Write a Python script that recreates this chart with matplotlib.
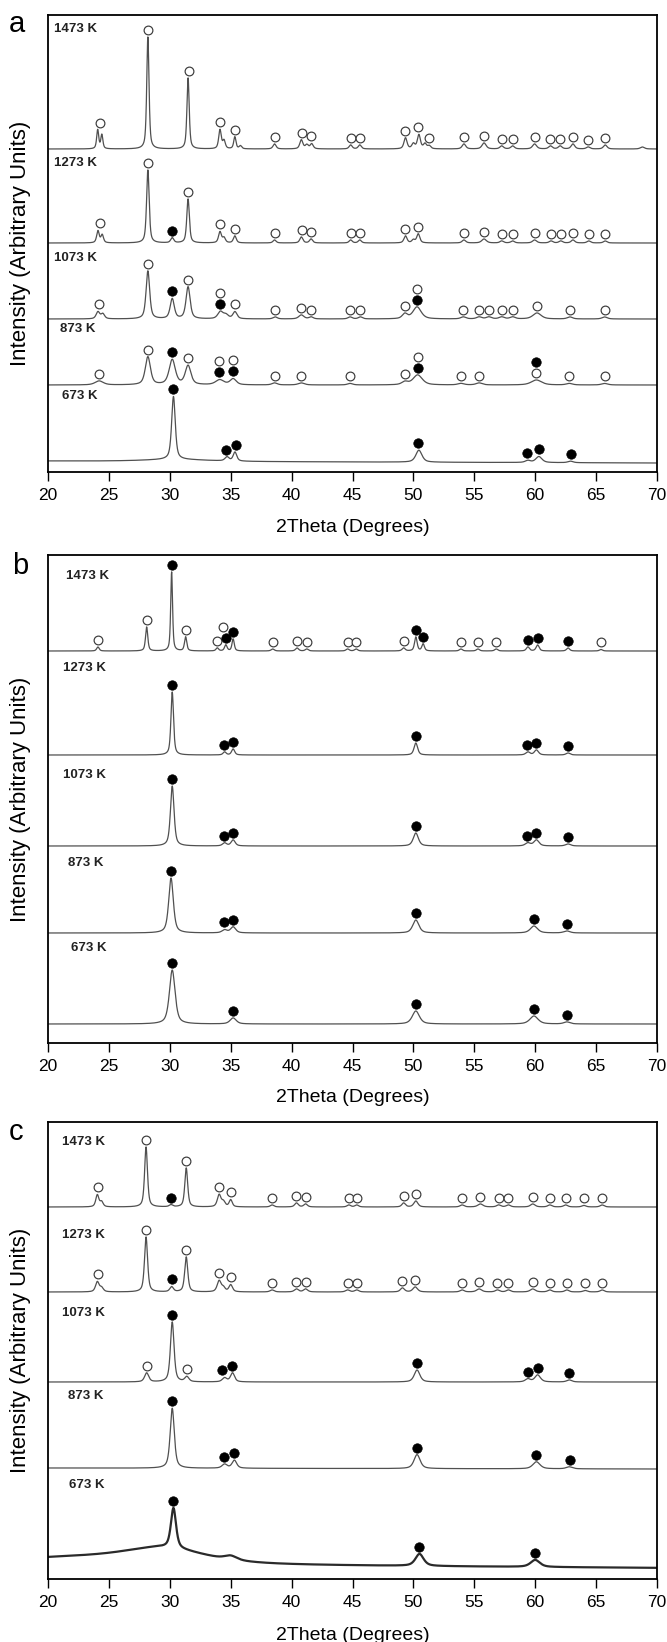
import numpy as np
import matplotlib
matplotlib.use("Agg")
import matplotlib.pyplot as plt

plt.rcParams['font.family'] = ['Liberation Sans', 'DejaVu Sans']

TEMPS = ["1473 K", "1273 K", "1073 K", "873 K", "673 K"]
X_TICKS = [20, 25, 30, 35, 40, 45, 50, 55, 60, 65, 70]

# ---- panel a : peaks (2theta, height, fwhm) and phase marks (2theta, 'o' open / 'f' filled)
A_1473_PEAKS = [(24.08, 19, 0.2), (24.42, 14, 0.2), (28.20, 112, 0.22), (31.50, 71, 0.22),
                (34.12, 19, 0.25), (34.45, 8, 0.25), (35.34, 12, 0.22), (35.80, 3, 0.25),
                (38.60, 5, 0.3), (40.80, 9, 0.3), (41.25, 4, 0.3), (41.65, 5, 0.3),
                (44.85, 4, 0.3), (45.60, 4, 0.3), (49.35, 11, 0.3), (50.00, 5, 0.3),
                (50.45, 14, 0.3), (50.95, 5, 0.3), (51.30, 3, 0.3), (54.15, 5, 0.35),
                (55.80, 6, 0.4), (57.25, 3, 0.35), (58.15, 3, 0.35), (59.95, 5, 0.4),
                (61.25, 3, 0.35), (62.05, 3, 0.35), (63.10, 5, 0.35), (64.35, 2, 0.35),
                (65.75, 4, 0.35), (68.80, 2, 0.4)]
A_1473_MARKS = [(24.3, 'o'), (28.2, 'o'), (31.55, 'o'), (34.15, 'o'), (35.35, 'o'), (38.6, 'o'),
                (40.85, 'o'), (41.6, 'o'), (44.85, 'o'), (45.6, 'o'), (49.35, 'o'), (50.4, 'o'),
                (51.3, 'o'), (54.15, 'o'), (55.8, 'o'), (57.25, 'o'), (58.15, 'o'), (59.95, 'o'),
                (61.25, 'o'), (62.05, 'o'), (63.1, 'o'), (64.35, 'o'), (65.75, 'o')]

A_1273_PEAKS = [(24.1, 12, 0.25), (24.45, 8, 0.25), (28.2, 73, 0.25), (30.2, 5, 0.3),
                (31.5, 44, 0.25), (34.12, 11, 0.28), (34.45, 5, 0.28), (35.34, 7, 0.28),
                (38.6, 3, 0.3), (40.8, 6, 0.3), (41.6, 4, 0.3), (44.85, 3, 0.3), (45.6, 3, 0.3),
                (49.35, 7, 0.3), (50.0, 3, 0.3), (50.4, 9, 0.3), (54.15, 3, 0.35),
                (55.8, 4, 0.45), (57.25, 2, 0.35), (58.15, 2, 0.35), (59.95, 3, 0.4),
                (61.3, 2, 0.35), (62.1, 2, 0.35), (63.1, 3, 0.35), (64.4, 2, 0.35), (65.75, 2, 0.35)]
A_1273_MARKS = [(24.3, 'o'), (28.2, 'o'), (30.2, 'f'), (31.5, 'o'), (34.15, 'o'), (35.35, 'o'),
                (38.6, 'o'), (40.85, 'o'), (41.6, 'o'), (44.85, 'o'), (45.6, 'o'), (49.35, 'o'),
                (50.4, 'o'), (54.15, 'o'), (55.8, 'o'), (57.25, 'o'), (58.15, 'o'), (59.95, 'o'),
                (61.3, 'o'), (62.1, 'o'), (63.1, 'o'), (64.4, 'o'), (65.75, 'o')]

A_1073_PEAKS = [(24.1, 7, 0.35), (24.5, 5, 0.35), (28.2, 48, 0.35), (30.2, 20, 0.4),
                (31.5, 32, 0.4), (34.15, 7, 0.5), (34.6, 4, 0.5), (35.35, 7, 0.4),
                (38.65, 2, 0.4), (40.8, 4, 0.5), (41.6, 2, 0.4), (44.8, 2, 0.4), (45.65, 2, 0.4),
                (49.3, 5, 0.5), (50.3, 12, 0.8), (54.1, 2, 0.5), (55.4, 2, 0.5), (56.2, 2, 0.5),
                (57.25, 2, 0.5), (58.15, 2, 0.5), (60.15, 6, 0.8), (62.85, 2, 0.5), (65.7, 2, 0.5)]
A_1073_MARKS = [(24.2, 'o'), (28.2, 'o'), (30.2, 'f'), (31.5, 'o'), (34.15, 'f'), (34.15, 'o'),
                (35.35, 'o'), (38.65, 'o'), (40.8, 'o'), (41.6, 'o'), (44.8, 'o'), (45.65, 'o'),
                (49.3, 'o'), (50.3, 'f'), (50.3, 'o'), (54.1, 'o'), (55.4, 'o'), (56.2, 'o'),
                (57.25, 'o'), (58.15, 'o'), (60.15, 'o'), (62.85, 'o'), (65.7, 'o')]

A_873_PEAKS = [(24.2, 4, 0.8), (28.2, 28, 0.5), (30.2, 25, 0.6), (31.5, 19, 0.55),
               (34.1, 5, 0.8), (35.2, 6, 0.6), (38.6, 2, 0.5), (40.8, 2, 0.6), (44.8, 1.5, 0.5),
               (49.3, 3, 0.6), (50.35, 10, 0.9), (53.9, 1.5, 0.6), (55.4, 2, 0.6),
               (60.1, 5, 1.0), (62.8, 1.5, 0.6), (65.7, 1.5, 0.6)]
A_873_MARKS = [(24.2, 'o'), (28.2, 'o'), (30.2, 'f'), (31.5, 'o'), (34.05, 'f'), (34.05, 'o'),
               (35.2, 'f'), (35.2, 'o'), (38.6, 'o'), (40.8, 'o'), (44.8, 'o'), (49.3, 'o'),
               (50.35, 'f'), (50.35, 'o'), (53.9, 'o'), (55.4, 'o'), (60.1, 'o'), (60.1, 'f'),
               (62.8, 'o'), (65.7, 'o')]

A_673_PEAKS = [(30.5, 2, 6.0), (30.3, 63, 0.35), (34.7, 4, 0.4), (35.35, 9, 0.35),
               (50.45, 12, 0.6), (59.4, 2, 0.5), (60.3, 6, 0.6), (62.9, 1.5, 0.5)]
A_673_MARKS = [(30.3, 'f'), (34.65, 'f'), (35.4, 'f'), (50.4, 'f'), (59.35, 'f'), (60.3, 'f'),
               (62.95, 'f')]

# ---- panel b
B_1473_PEAKS = [(24.1, 4, 0.25), (28.1, 24, 0.22), (30.15, 79, 0.18), (31.3, 14, 0.22),
                (33.9, 3, 0.25), (34.6, 6, 0.25), (35.2, 12, 0.22), (38.45, 2, 0.3),
                (40.45, 3, 0.3), (41.25, 2, 0.3), (44.6, 2, 0.3), (45.3, 2, 0.3),
                (49.2, 3, 0.3), (50.2, 14, 0.25), (50.8, 7, 0.25), (53.9, 2, 0.3),
                (55.3, 2, 0.3), (56.8, 2, 0.3), (59.4, 4, 0.3), (60.2, 6, 0.3),
                (62.7, 3, 0.3), (65.4, 1.5, 0.3)]
B_1473_MARKS = [(24.1, 'o'), (28.1, 'o'), (30.15, 'f'), (31.3, 'o'), (33.85, 'o'), (34.6, 'f'),
                (34.35, 'o'), (35.2, 'f'), (38.45, 'o'), (40.45, 'o'), (41.25, 'o'), (44.6, 'o'),
                (45.3, 'o'), (49.2, 'o'), (50.2, 'f'), (50.8, 'f'), (53.9, 'o'), (55.3, 'o'),
                (56.8, 'o'), (59.4, 'f'), (60.2, 'f'), (62.7, 'f'), (65.4, 'o')]

B_1273_PEAKS = [(30.2, 63, 0.25), (34.5, 3, 0.3), (35.2, 6, 0.3), (50.2, 12, 0.35),
                (59.4, 3, 0.4), (60.1, 5, 0.4), (62.7, 2, 0.4)]
B_1273_MARKS = [(30.2, 'f'), (34.45, 'f'), (35.2, 'f'), (50.2, 'f'), (59.35, 'f'), (60.1, 'f'),
                (62.7, 'f')]

B_1073_PEAKS = [(30.2, 60, 0.35), (34.5, 3, 0.4), (35.2, 6, 0.4), (50.2, 13, 0.5),
                (59.4, 3, 0.5), (60.1, 6, 0.5), (62.7, 2, 0.5)]
B_1073_MARKS = [(30.2, 'f'), (34.45, 'f'), (35.2, 'f'), (50.2, 'f'), (59.35, 'f'), (60.1, 'f'),
                (62.7, 'f')]

B_873_PEAKS = [(30.1, 55, 0.45), (34.5, 3, 0.5), (35.2, 6, 0.5), (50.2, 13, 0.6),
               (59.9, 7, 0.7), (62.6, 2, 0.6)]
B_873_MARKS = [(30.1, 'f'), (34.45, 'f'), (35.15, 'f'), (50.2, 'f'), (59.9, 'f'), (62.6, 'f')]

B_673_PEAKS = [(30.2, 54, 0.55), (35.2, 6, 0.6), (50.2, 13, 0.7), (59.9, 8, 0.8), (62.6, 2, 0.6)]
B_673_MARKS = [(30.2, 'f'), (35.2, 'f'), (50.2, 'f'), (59.9, 'f'), (62.6, 'f')]

# ---- panel c
C_1473_PEAKS = [(24.05, 12, 0.3), (24.4, 5, 0.3), (28.05, 60, 0.28), (30.1, 2, 0.35),
                (31.35, 39, 0.28), (34.05, 12, 0.35), (34.4, 5, 0.35), (35.0, 7, 0.3),
                (38.4, 2, 0.35), (40.4, 4, 0.35), (41.15, 3, 0.35), (44.7, 2, 0.35),
                (45.35, 2, 0.35), (49.2, 4, 0.35), (50.2, 6, 0.4), (54.0, 2, 0.4),
                (55.5, 3, 0.5), (57.0, 2, 0.4), (57.8, 2, 0.4), (59.8, 3, 0.45),
                (61.2, 2, 0.4), (62.5, 2, 0.4), (64.0, 1.5, 0.4), (65.5, 2, 0.4)]
C_1473_MARKS = [(24.1, 'o'), (28.05, 'o'), (30.1, 'f'), (31.35, 'o'), (34.05, 'o'), (35.0, 'o'),
                (38.4, 'o'), (40.4, 'o'), (41.15, 'o'), (44.7, 'o'), (45.35, 'o'), (49.2, 'o'),
                (50.2, 'o'), (54.0, 'o'), (55.5, 'o'), (57.0, 'o'), (57.8, 'o'), (59.8, 'o'),
                (61.2, 'o'), (62.5, 'o'), (64.0, 'o'), (65.5, 'o')]

C_1273_PEAKS = [(24.05, 10, 0.35), (24.4, 4, 0.35), (28.05, 55, 0.3), (30.15, 5, 0.35),
                (31.35, 35, 0.3), (34.05, 11, 0.38), (34.4, 4, 0.35), (35.0, 7, 0.35),
                (38.4, 2, 0.4), (40.4, 3, 0.4), (41.15, 3, 0.4), (44.6, 2, 0.4),
                (45.35, 2, 0.4), (49.1, 4, 0.4), (50.15, 5, 0.45), (54.0, 2, 0.4),
                (55.4, 3, 0.5), (56.9, 2, 0.4), (57.8, 2, 0.4), (59.8, 3, 0.5),
                (61.2, 2, 0.4), (62.6, 2, 0.4), (64.1, 1.5, 0.4), (65.5, 2, 0.4)]
C_1273_MARKS = [(24.1, 'o'), (28.05, 'o'), (30.15, 'f'), (31.35, 'o'), (34.05, 'o'), (35.0, 'o'),
                (38.4, 'o'), (40.4, 'o'), (41.15, 'o'), (44.6, 'o'), (45.35, 'o'), (49.1, 'o'),
                (50.15, 'o'), (54.0, 'o'), (55.4, 'o'), (56.9, 'o'), (57.8, 'o'), (59.8, 'o'),
                (61.2, 'o'), (62.6, 'o'), (64.1, 'o'), (65.5, 'o')]

C_1073_PEAKS = [(28.1, 9, 0.4), (30.2, 60, 0.35), (31.4, 5, 0.4), (34.5, 4, 0.45),
                (35.15, 9, 0.4), (50.3, 12, 0.55), (59.4, 3, 0.5), (60.2, 7, 0.55), (62.8, 2, 0.5)]
C_1073_MARKS = [(28.1, 'o'), (30.2, 'f'), (31.4, 'o'), (34.3, 'f'), (35.1, 'f'), (50.3, 'f'),
                (59.4, 'f'), (60.2, 'f'), (62.8, 'f')]

C_873_PEAKS = [(30.2, 60, 0.4), (34.5, 4, 0.5), (35.3, 8, 0.45), (50.3, 14, 0.6),
               (60.1, 7, 0.7), (62.8, 2, 0.6)]
C_873_MARKS = [(30.2, 'f'), (34.45, 'f'), (35.3, 'f'), (50.3, 'f'), (60.1, 'f'), (62.85, 'f')]

C_673_PEAKS = [(29.5, 15, 8.0), (22.0, 6, 14.0), (30.3, 40, 0.5), (35.0, 4, 1.2),
               (50.5, 12, 0.8), (60.0, 7, 0.9)]
C_673_MARKS = [(30.25, 'f'), (50.5, 'f'), (60.0, 'f')]

# vertical offsets of each pattern (1473 K ... 673 K) and background tilt
A_OFFSETS = [323, 229, 153, 87, 9]
B_OFFSETS = [392, 288, 197, 110, 19]
C_OFFSETS = [372, 287, 197, 110, 11]
A_TILT = [0, 0, 0, 0, 2]
B_TILT = [0, 0, 0, 0, 0]
C_TILT = [0, 0, 0, 1, 4]

two_theta = np.linspace(20, 70, 6001)


def profile(x, peaks, eta=0.6):
    y = np.zeros_like(x)
    for c, h, w in peaks:
        d = (x - c) / w
        y += h * (eta / (1 + 4 * d * d) + (1 - eta) * np.exp(-4 * np.log(2) * d * d))
    return y


W, H = 667, 1642
fig = plt.figure(figsize=(W / 100, H / 100), dpi=100)

LEFT, RIGHT = 48, 657
panels = [
    dict(letter="a", top=15, bottom=472, letter_xy=(17, 24),
         offsets=A_OFFSETS, tilt=A_TILT,
         peaks=[A_1473_PEAKS, A_1273_PEAKS, A_1073_PEAKS, A_873_PEAKS, A_673_PEAKS],
         marks=[A_1473_MARKS, A_1273_MARKS, A_1073_MARKS, A_873_MARKS, A_673_MARKS],
         lab_x=[54, 54, 54, 60, 62], lab_y=[29, 163, 258, 329, 396], xlab_y=528),
    dict(letter="b", top=555, bottom=1043, letter_xy=(20, 566),
         offsets=B_OFFSETS, tilt=B_TILT,
         peaks=[B_1473_PEAKS, B_1273_PEAKS, B_1073_PEAKS, B_873_PEAKS, B_673_PEAKS],
         marks=[B_1473_MARKS, B_1273_MARKS, B_1073_MARKS, B_873_MARKS, B_673_MARKS],
         lab_x=[66, 63, 63, 68, 71], lab_y=[576, 668, 775, 863, 948], xlab_y=1097),
    dict(letter="c", top=1122, bottom=1579, letter_xy=(16, 1132),
         offsets=C_OFFSETS, tilt=C_TILT,
         peaks=[C_1473_PEAKS, C_1273_PEAKS, C_1073_PEAKS, C_873_PEAKS, C_673_PEAKS],
         marks=[C_1473_MARKS, C_1273_MARKS, C_1073_MARKS, C_873_MARKS, C_673_MARKS],
         lab_x=[62, 62, 62, 68, 69], lab_y=[1142, 1235, 1313, 1396, 1485], xlab_y=1635),
]

LINE_C = "#505050"
GAP, STEP = 7, 11

for p in panels:
    height = p["bottom"] - p["top"]
    ax = fig.add_axes([LEFT / W, 1 - p["bottom"] / H, (RIGHT - LEFT) / W, height / H])
    ax.set_xlim(20, 70)
    ax.set_ylim(0, height)
    for k in range(5):
        y = p["offsets"][k] + p["tilt"][k] * (70 - two_theta) / 50 + profile(two_theta, p["peaks"][k])
        noisy = (p["letter"] == "c" and k == 4)
        ax.plot(two_theta, y, color="#2a2a2a" if noisy else LINE_C,
                lw=1.6 if noisy else 0.9, zorder=2)
        placed = []
        for xm, kind in p["marks"][k]:
            win = np.abs(two_theta - xm) <= 0.2
            level = sum(1 for xp in placed if abs(xp - xm) <= 0.3)
            ym = y[win].max() + GAP + level * STEP
            placed.append(xm)
            if kind == 'o':
                ax.plot(xm, ym, 'o', ms=6.3, mfc='white', mec='#3a3a3a', mew=0.85, zorder=3)
            else:
                ax.plot(xm, ym, 'o', ms=6.8, mfc='black', mec='black', mew=0.5, zorder=3)
        fig.text(p["lab_x"][k] / W, 1 - p["lab_y"][k] / H, TEMPS[k], fontsize=9.5,
                 fontweight='bold', ha='left', va='center', color='#222222')

    ax.set_xticks(X_TICKS)
    ax.set_yticks([])
    ax.tick_params(axis='x', direction='out', length=6.5, width=1.0, labelsize=12.5, pad=5)
    for s in ax.spines.values():
        s.set_linewidth(1.3)
        s.set_color('black')
    fig.text(0.5 * (LEFT + RIGHT) / W, 1 - p["xlab_y"] / H, "2Theta (Degrees)", fontsize=14,
             ha='center', va='center')
    fig.text(21 / W, 1 - (p["top"] + p["bottom"]) / 2 / H, "Intensity (Arbitrary Units)",
             fontsize=16, rotation=90, ha='center', va='center')
    lx, ly = p["letter_xy"]
    fig.text(lx / W, 1 - ly / H, p["letter"], fontsize=21, ha='center', va='center')

fig.savefig("out.png", dpi=100, facecolor='white')
